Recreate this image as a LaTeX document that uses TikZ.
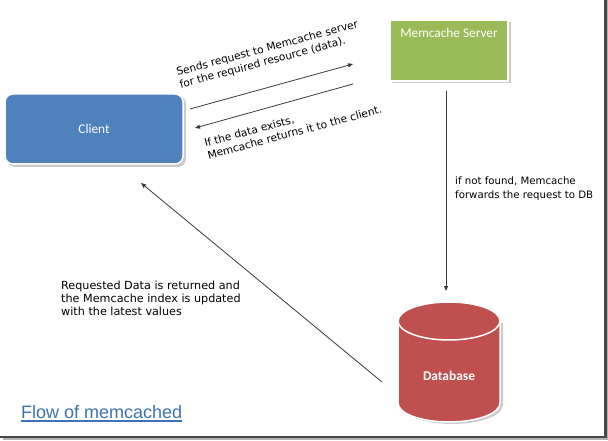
\documentclass[tikz,border=0pt]{standalone}
\usepackage{fontspec}
\newfontfamily\calib{Carlito}
\newfontfamily\verd{DejaVu Sans}
\newfontfamily\arial{Liberation Sans}
\usetikzlibrary{arrows.meta}
\definecolor{cblue}{HTML}{4F81BD}
\definecolor{cgreen}{HTML}{9BBB59}
\definecolor{cred}{HTML}{C0504D}
\definecolor{linkblue}{HTML}{3F72B5}
\definecolor{arrowgray}{HTML}{3A3A3A}
\begin{document}
\begin{tikzpicture}[x=1pt,y=1pt,
  conn/.style={draw=arrowgray,line width=0.8pt,-{Triangle[length=5pt,width=4pt]}},
  lbl/.style={font=\verd\fontsize{10.2}{14}\selectfont,align=left,inner sep=0pt,text=black},
  rlbl/.style={font=\verd\fontsize{10.6}{12.8}\selectfont,align=left,inner sep=0pt,text=black,rotate=15},
  boxtext/.style={font=\calib\fontsize{13.3}{15}\selectfont,text=white}
]
\useasboundingbox (0,0) rectangle (608,440);
% frame with shadow
\fill[gray!60] (3,0.5) rectangle (608,3.5);
\fill[gray!60] (604,0.5) rectangle (608,440);
\fill[black!72] (0,2) rectangle (606.5,4.5);
\fill[black!72] (603.5,2) rectangle (606.5,440);
\fill[white] (0,4.5) rectangle (603.5,440);

% Client
\fill[black!20,rounded corners=8pt] (7,273) rectangle (186,344);
\node[draw=white,line width=1.5pt,fill=cblue,rounded corners=8pt,
  minimum width=178pt,minimum height=70pt,boxtext] (client) at (94,311) {Client};

% Memcache Server
\fill[black!20] (392,357) rectangle (511,418);
\node[draw=white,line width=1.5pt,fill=cgreen,minimum width=118pt,minimum height=61pt,inner sep=0pt] (mc) at (449,389.5) {};
\node[boxtext,anchor=center] (mctext) at (449,407) {Memcache Server};

% Database cylinder
\fill[black!20] (401,117) -- (401,35) arc (180:360:51 and 19) -- (503,117) -- cycle;
\filldraw[fill=cred,draw=white,line width=1.5pt]
  (398,119) -- (398,37) arc (180:360:51 and 19) -- (500,119) arc (0:180:51 and 19) -- cycle;
\draw[white,line width=1.5pt] (398,119) arc (180:360:51 and 19);
\node[font=\calib\bfseries\fontsize{13.4}{15}\selectfont,text=white] (db) at (449,64) {Database};

% coordinates for connectors
\coordinate (reqS) at (190,331);
\coordinate (reqE) at (353,376);
\coordinate (repS) at (353,356);
\coordinate (repE) at (195,312);
\coordinate (fwdS) at (446,349);
\coordinate (fwdE) at (446,149);
\coordinate (retS) at (382,58);
\coordinate (retE) at (141,257);

\draw[conn] (reqS) -- (reqE);
\draw[conn] (repS) -- (repE);
\draw[conn] (fwdS) -- (fwdE);
\draw[conn] (retS) -- (retE);

% labels
\node[rlbl] (l1) at (269,385) {Sends request to Memcache server\\for the required resource (data).};
\node[rlbl] (l2) at (293,314) {If the data exists,\\Memcache returns it to the client.};
\node[lbl,anchor=west] (l3) at (455,251) {if not found, Memcache\\forwards the request to DB};
\node[lbl,anchor=west,font=\verd\fontsize{11.2}{13}\selectfont] (l4) at (61,142) {Requested Data is returned and\\the Memcache index is updated\\with the latest values};

% title
\node[font=\arial\fontsize{18}{20}\selectfont,text=linkblue,inner sep=0pt,anchor=base west] (flow) at (21,22) {Flow of memcached};
\draw[linkblue,line width=1.1pt] ([yshift=-3pt]flow.base west) -- ([yshift=-3pt]flow.base east);
\end{tikzpicture}
\end{document}
